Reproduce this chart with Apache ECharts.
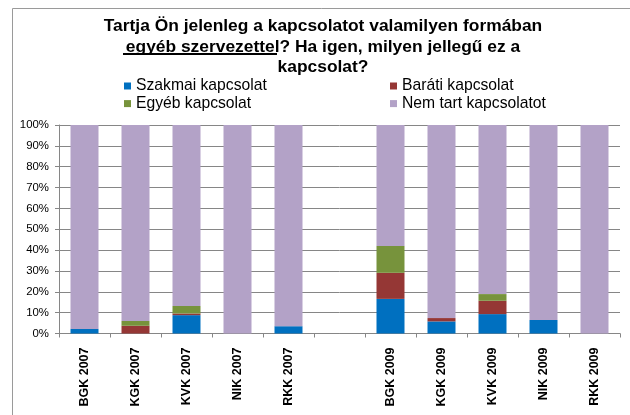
<!DOCTYPE html>
<html><head><meta charset="utf-8">
<script src="https://cdn.jsdelivr.net/npm/echarts@6/dist/echarts.min.js"></script>
<style>html,body{margin:0;padding:0;background:#fff}#c{width:630px;height:415px}</style>
</head><body><div id="c"></div>
<script>
var categories = ['BGK 2007','KGK 2007','KVK 2007','NIK 2007','RKK 2007','','BGK 2009','KGK 2009','KVK 2009','NIK 2009','RKK 2009'];
var szakmai = [2.2, 0, 8.8, 0, 3.5, null, 16.6, 5.8, 9.3, 6.5, 0];
var barati  = [0, 3.7, 0.8, 0, 0, null, 12.5, 1.6, 6.4, 0, 0];
var egyeb   = [0, 2.3, 3.6, 0, 0, null, 12.9, 0, 3.2, 0, 0];
var nemTart = [97.8, 94.0, 86.8, 100, 96.5, null, 58.0, 92.6, 81.1, 93.5, 100];
var seriesNames = ['Szakmai kapcsolat','Baráti kapcsolat','Egyéb kapcsolat','Nem tart kapcsolatot'];
var colors = ['#0070C0','#953735','#77933C','#B3A2C7'];
var yTicks = [0,10,20,30,40,50,60,70,80,90,100];

var FONT = '"Liberation Sans", Arial, sans-serif';
var chart = echarts.init(document.getElementById('c'), null, {renderer:'canvas'});
var vals = [szakmai, barati, egyeb, nemTart];
var series = seriesNames.map(function(n,i){
  return {name:n, type:'bar', stack:'s', data:vals[i], barWidth:28,
    itemStyle:{color:colors[i]}, emphasis:{disabled:true}};
});
chart.setOption({
  animation:false,
  backgroundColor:'#fff',
  color:colors,
  title:{
    text:'Tartja Ön jelenleg a kapcsolatot valamilyen formában\negyéb szervezettel? Ha igen, milyen jellegű ez a\nkapcsolat?',
    left:323, top:16, textAlign:'center', padding:0,
    textStyle:{fontFamily:FONT, fontWeight:'bold', fontSize:17.4, lineHeight:20.5, color:'#000'}
  },
  legend:[
    {data:[seriesNames[0], seriesNames[2]], orient:'vertical', left:124, top:78, padding:0, itemWidth:7, itemHeight:7, itemGap:1.6,
     icon:'rect', textStyle:{fontFamily:FONT, fontSize:15.7, color:'#000'}},
    {data:[seriesNames[1], seriesNames[3]], orient:'vertical', left:390, top:78, padding:0, itemWidth:7, itemHeight:7, itemGap:1.6,
     icon:'rect', textStyle:{fontFamily:FONT, fontSize:15.7, color:'#000'}}
  ],
  grid:{left:59, right:10, top:125, bottom:81.5, containLabel:false},
  xAxis:{type:'category', data:categories,
    axisLine:{lineStyle:{color:'#868686'}},
    axisTick:{show:true, length:4, lineStyle:{color:'#868686'}},
    axisLabel:{rotate:90, interval:0, margin:14, fontFamily:FONT, fontWeight:'bold', fontSize:12.5, color:'#000'}},
  yAxis:{type:'value', min:0, max:100, interval:10,
    axisLine:{show:true, lineStyle:{color:'#868686'}},
    axisTick:{show:true, length:4, lineStyle:{color:'#868686'}},
    splitLine:{lineStyle:{color:'#868686'}},
    axisLabel:{margin:10, fontFamily:FONT, fontSize:11.4, color:'#000', formatter:function(v){return yTicks.indexOf(v)>=0? v+'%':'';}}},
  series:series,
  graphic:[
    {type:'rect', shape:{x:12.5, y:8.5, width:700, height:500}, style:{fill:null, stroke:'#9a9a9a', lineWidth:1}, silent:true},
    {type:'line', shape:{x1:123, y1:54, x2:277, y2:54}, style:{stroke:'#000', lineWidth:2}, silent:true}
  ]
});
</script></body></html>
